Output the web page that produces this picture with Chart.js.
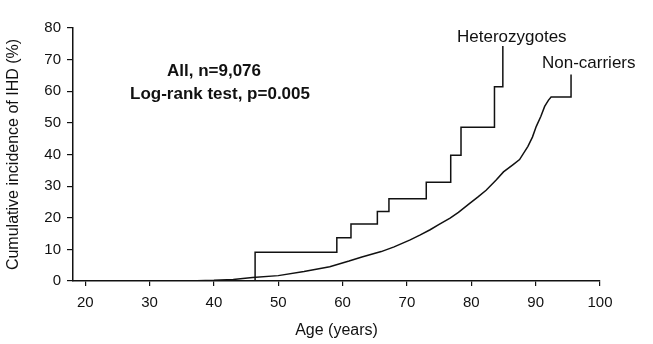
<!DOCTYPE html>
<html>
<head>
<meta charset="utf-8">
<script src="https://cdn.jsdelivr.net/npm/chart.js@4.4.1/dist/chart.umd.min.js"></script>
<style>
  html, body { margin: 0; padding: 0; background: #fff; }
  #wrap { width: 653px; height: 344px; }
</style>
</head>
<body>
<div id="wrap"><canvas id="kmChart" width="653" height="344"></canvas></div>
<script>
// Heterozygotes: Kaplan-Meier step times (age) and cumulative incidence (%)
const hetAges = [18.1, 46.4, 59.1, 61.3, 65.4, 67.2, 73.0, 76.8, 78.4, 83.6, 84.9];
const hetValues = [0, 9.1, 13.7, 18.0, 22.0, 26.0, 31.2, 39.8, 48.6, 61.4, 74.3];

// Non-carriers: cumulative incidence curve (%)
const nonAges = [18.1, 36, 40, 43, 46, 50, 54, 58, 61, 63, 66, 68, 70.5, 72, 73.6, 75, 76.7, 78, 79.8, 81, 82.3, 83.9, 85, 86.5, 87.5, 88.8, 89.5, 90.1, 90.8, 91.4, 92.0, 92.4, 95.5, 95.5];
const nonValues = [0, 0, 0.2, 0.5, 1.1, 1.7, 3.0, 4.5, 6.3, 7.6, 9.3, 10.8, 13.0, 14.5, 16.2, 17.9, 19.9, 21.7, 24.6, 26.5, 28.7, 32.0, 34.5, 36.8, 38.4, 42.6, 45.5, 48.9, 52.0, 55.2, 57.2, 58.2, 58.2, 65.3];

const xTicks = [20, 30, 40, 50, 60, 70, 80, 90, 100];
const yTicks = [0, 10, 20, 30, 40, 50, 60, 70, 80];

const FONT = "'Liberation Sans', Arial, Helvetica, sans-serif";

const toPoints = (xs, ys) => xs.map((x, i) => ({ x: x, y: ys[i] }));

const annotations = {
    id: 'annotations',
    afterDraw(chart) {
        const ctx = chart.ctx;
        ctx.save();
        ctx.fillStyle = '#111';
        ctx.textBaseline = 'middle';
        ctx.textAlign = 'left';
        ctx.font = 'bold 17px ' + FONT;
        ctx.fillText('All, n=9,076', 167, 71);
        ctx.fillText('Log-rank test, p=0.005', 130, 94);
        ctx.font = '17px ' + FONT;
        ctx.fillText('Heterozygotes', 457, 37);
        ctx.fillText('Non-carriers', 542, 63);
        ctx.restore();
    }
};

new Chart(document.getElementById('kmChart').getContext('2d'), {
    type: 'scatter',
    data: {
        datasets: [{
            label: 'Heterozygotes',
            data: toPoints(hetAges, hetValues),
            showLine: true,
            stepped: 'before',
            borderColor: '#111',
            borderWidth: 1.5,
            pointRadius: 0,
            fill: false
        }, {
            label: 'Non-carriers',
            data: toPoints(nonAges, nonValues),
            showLine: true,
            borderColor: '#111',
            borderWidth: 1.5,
            pointRadius: 0,
            tension: 0,
            fill: false
        }]
    },
    options: {
        responsive: false,
        animation: false,
        layout: { padding: { top: 28, right: 53, left: 0, bottom: 0 } },
        plugins: {
            legend: { display: false },
            tooltip: { enabled: false }
        },
        scales: {
            x: {
                type: 'linear',
                min: 18.1,
                max: 100,
                afterBuildTicks: (scale) => { scale.ticks = xTicks.map(v => ({ value: v })); },
                afterFit: (scale) => { scale.height = 63; },
                grid: { display: true, drawOnChartArea: false, drawTicks: true, tickLength: 5, color: '#111', lineWidth: 1.2 },
                border: { display: true, color: '#111', width: 1.5 },
                ticks: { color: '#111', font: { family: FONT, size: 15 }, padding: 8, maxRotation: 0 },
                title: { display: true, text: 'Age (years)', color: '#111', font: { family: FONT, size: 16 }, padding: { top: 3 } }
            },
            y: {
                min: 0,
                max: 80,
                afterBuildTicks: (scale) => { scale.ticks = yTicks.map(v => ({ value: v })); },
                afterFit: (scale) => { scale.width = 73; },
                grid: { display: true, drawOnChartArea: false, drawTicks: true, tickLength: 6, color: '#111', lineWidth: 1.2 },
                border: { display: true, color: '#111', width: 1.5 },
                ticks: { color: '#111', font: { family: FONT, size: 15 }, padding: 6 },
                title: { display: true, text: 'Cumulative incidence of IHD (%)', color: '#111', font: { family: FONT, size: 16 }, padding: { bottom: 0 } }
            }
        }
    },
    plugins: [annotations]
});
</script>
</body>
</html>
